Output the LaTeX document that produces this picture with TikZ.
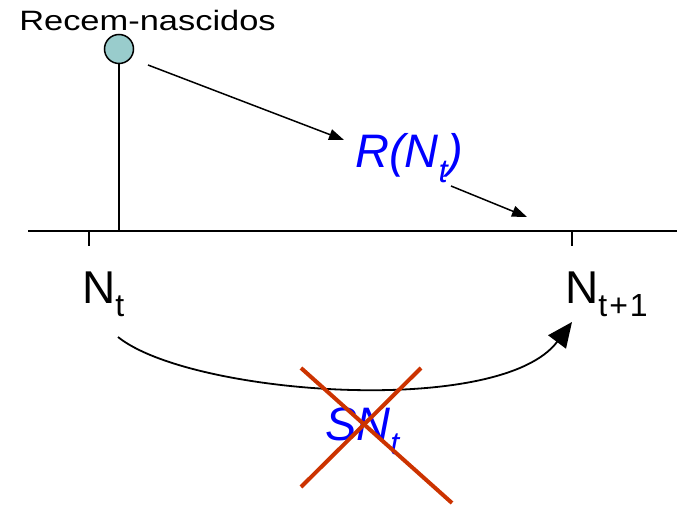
\documentclass[tikz,border=0pt]{standalone}
\usepackage{fontspec}
\setmainfont{Liberation Sans}
\usetikzlibrary{arrows.meta}
\definecolor{bulbfill}{HTML}{99CCCC}
\definecolor{crossred}{HTML}{CC3300}
\definecolor{labelblue}{HTML}{0000FF}
\newcommand{\sbx}[2]{\raisebox{-0.3em}{\fontsize{#1}{#1}\selectfont #2}}
\tikzset{
  axisline/.style={line width=2pt},
  smallarrow/.style={line width=1.5pt,-{Triangle[length=15pt,width=11pt]}},
  bigarrow/.style={line width=1.8pt,-{Triangle[length=25pt,width=22pt]}},
  crossline/.style={line width=4pt,draw=crossred},
  bigtxt/.style={inner sep=0pt,font=\fontsize{46}{46}\selectfont},
  bluetxt/.style={inner sep=0pt,text=labelblue,font=\fontsize{47}{47}\selectfont\itshape},
}
\begin{document}
\begin{tikzpicture}[x=1pt,y=-1pt]
\useasboundingbox (0,0) rectangle (677,505);
% axis
\coordinate (axL) at (28,231);
\coordinate (axR) at (677,231);
\draw[axisline] (axL) -- (axR);
% ticks
\coordinate (tk1) at (89,231);
\coordinate (tk1b) at (89,246);
\coordinate (tk2) at (572,231);
\coordinate (tk2b) at (572,246);
\draw[line width=1.5pt] (tk1) -- (tk1b);
\draw[line width=1.5pt] (tk2) -- (tk2b);
% newborn bulb
\coordinate (stemb) at (119,231);
\node[circle,draw,line width=1.5pt,fill=bulbfill,minimum size=29pt,inner sep=0pt] (bulb) at (119,49) {};
\draw[line width=1.8pt] (bulb.south) -- (stemb);
\node[inner sep=0pt,anchor=base,xscale=1.23,transform shape,font=\fontsize{28}{28}\selectfont] (rec) at (147.5,31) {Recem-nascidos};
% labels
\node[bigtxt,anchor=base west] (nt) at (82,303) {N\sbx{32}{t}};
\node[bigtxt,anchor=base west] (nt1) at (565,303) {N\sbx{32}{t{\kern2pt}+{\kern2pt}1}};
\node[bluetxt,anchor=base west] (rnt) at (355,168) {R(N\sbx{33}{t})};
\node[bluetxt,anchor=base west] (snt) at (325,440) {SN\sbx{32}{t}};
% arrows
\coordinate (a1s) at (148,65);
\coordinate (a1e) at (344,140);
\coordinate (a2s) at (451,186);
\coordinate (a2e) at (527,217);
\draw[smallarrow] (a1s) -- (a1e);
\draw[smallarrow] (a2s) -- (a2e);
\coordinate (cs) at (118,337);
\coordinate (ce) at (572,322);
\draw[bigarrow] (cs) .. controls (190,395) and (500,418) .. (ce);
% cross
\coordinate (x1a) at (301,368);
\coordinate (x1b) at (452,503);
\coordinate (x2a) at (421,368);
\coordinate (x2b) at (301,487);
\draw[crossline] (x1a) -- (x1b);
\draw[crossline] (x2a) -- (x2b);
\end{tikzpicture}
\end{document}
